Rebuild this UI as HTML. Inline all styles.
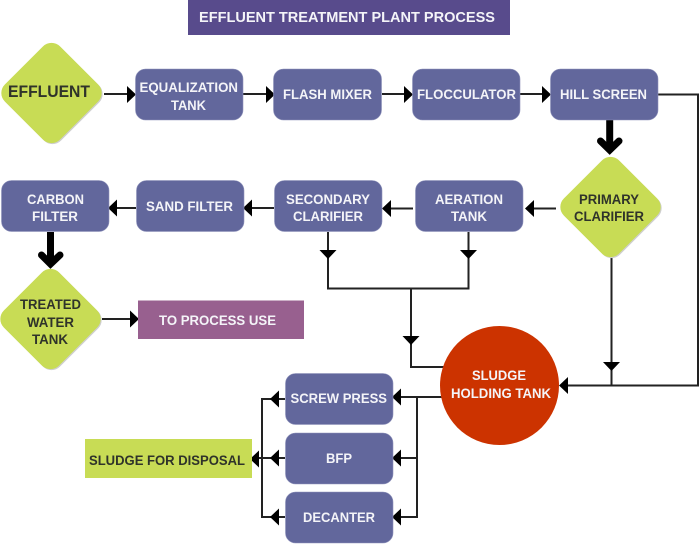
<!DOCTYPE html>
<html><head><meta charset="utf-8"><style>
html,body{margin:0;padding:0;background:#fff}
svg{display:block}
text{font-family:"Liberation Sans",sans-serif;font-weight:bold;font-size:13.5px}
.w{fill:#f4f4f8}.d{fill:#2f332a}
.l{stroke:#222;stroke-width:2;fill:none}
.b{fill:#62679c;stroke:#8f93bb;stroke-width:.6}
</style></head><body>
<svg width="700" height="544" viewBox="0 0 700 544" xmlns="http://www.w3.org/2000/svg">
<defs>
<g id="dia"><rect x="-39" y="-39" width="78" height="78" rx="12" transform="rotate(45)"/></g>
</defs>
<rect x="188" y="0" width="322" height="35" fill="#584b8c"/>
<text x="199" y="22" style="font-size:14.5px" textLength="296" lengthAdjust="spacingAndGlyphs" class="w">EFFLUENT TREATMENT PLANT PROCESS</text>

<!-- connector lines -->
<g class="l">
<path d="M104 94H130M243 94H268M382 94H406M520 94H545"/>
<path d="M658 94.500H698V385.500H566"/>
<path d="M611.500 258V385"/>
<path d="M556 208.500H532M413 208.500H390M274 208H250M136 208H115"/>
<path d="M468.500 232V288.500H328V232"/>
<path d="M411 288.500V367H444"/>
<path d="M102 319H132"/>
<path d="M442 397H400M417 397V517H400M417 458H400"/>
<path d="M285 399H262V517H285M285 458H256"/>
</g>
<!-- arrowheads -->
<g fill="#000">
<path d="M127 86L136 94.500L127 103ZM266 86L275 94.500L266 103ZM404 86L413 94.500L404 103ZM542 86L551 94.500L542 103Z"/>
<path d="M534 200L525 208.500L534 217ZM391 200L382 208.500L391 217ZM252 199.500L243 208L252 216.500ZM117 199.500L108 208L117 216.500Z"/>
<path d="M130 310.500L139 319L130 327.500Z"/>
<path d="M319.500 250H336.500L328 259ZM460 250H477L468.500 259ZM402.500 336H419.500L411 345ZM603 362H620L611.500 371Z"/>
<path d="M568 377L559 385.500L568 394Z"/>
<path d="M401 388.500L392 397L401 405.500ZM401 449.500L392 458L401 466.500ZM401 508.500L392 517L401 525.500Z"/>
<path d="M279 390.500L270 399L279 407.500ZM279 449.500L270 458L279 466.500ZM279 508.500L270 517L279 525.500ZM259 450.500L250 459L259 467.500Z"/>
</g>
<!-- thick arrows -->
<g fill="none" stroke="#000" stroke-width="7">
<path d="M609.700 120V150"/>
<path d="M50.500 232V262"/>
<path d="M600.500 141L609.700 150L619 141" stroke-linecap="round"/>
<path d="M41.500 255L50.500 264L60 255" stroke-linecap="round"/>
</g>

<!-- boxes -->
<rect class="b" x="135.500" y="69" width="107.500" height="51" rx="10"/>
<rect class="b" x="273.500" y="69" width="108" height="51" rx="10"/>
<rect class="b" x="412.500" y="69" width="107.500" height="51" rx="10"/>
<rect class="b" x="550.500" y="69" width="107.500" height="51" rx="10"/>
<rect class="b" x="1.500" y="180.500" width="107.500" height="51" rx="10"/>
<rect class="b" x="136.500" y="180.500" width="107.500" height="51" rx="10"/>
<rect class="b" x="274.500" y="180.500" width="107.500" height="51" rx="10"/>
<rect class="b" x="415.500" y="180.500" width="107.500" height="51" rx="10"/>
<rect class="b" x="285.500" y="373.500" width="107.500" height="51" rx="10"/>
<rect class="b" x="285.500" y="433" width="107.500" height="51" rx="10"/>
<rect class="b" x="285.500" y="492" width="107.500" height="51" rx="10"/>

<!-- diamonds -->
<use href="#dia" x="52.500" y="94" fill="#cfcfcf"/>
<use href="#dia" x="51.500" y="93" fill="#c8dc55"/>
<use href="#dia" x="611.500" y="208" fill="#cfcfcf"/>
<use href="#dia" x="610.500" y="207" fill="#c8dc55"/>
<use href="#dia" x="51.500" y="320" fill="#cfcfcf"/>
<use href="#dia" x="50.500" y="319" fill="#c8dc55"/>

<rect x="138" y="300.500" width="166" height="38.500" fill="#98608f"/>
<rect x="85" y="439" width="167" height="39" fill="#c8dc55"/>
<circle cx="499.500" cy="385.500" r="59.500" fill="#cc3300"/>

<!-- labels -->
<text class="d" x="8" y="97" style="font-size:16.500px" textLength="82" lengthAdjust="spacingAndGlyphs">EFFLUENT</text>
<text class="w" x="139.500" y="92" textLength="98.500" lengthAdjust="spacingAndGlyphs">EQUALIZATION</text>
<text class="w" x="171" y="110" textLength="35" lengthAdjust="spacingAndGlyphs">TANK</text>
<text class="w" x="283" y="99" textLength="89" lengthAdjust="spacingAndGlyphs">FLASH MIXER</text>
<text class="w" x="417" y="99" textLength="99" lengthAdjust="spacingAndGlyphs">FLOCCULATOR</text>
<text class="w" x="560" y="99" textLength="87" lengthAdjust="spacingAndGlyphs">HILL SCREEN</text>
<text class="w" x="435" y="204" textLength="68" lengthAdjust="spacingAndGlyphs">AERATION</text>
<text class="w" x="451" y="221" textLength="36" lengthAdjust="spacingAndGlyphs">TANK</text>
<text class="w" x="286" y="204" textLength="84" lengthAdjust="spacingAndGlyphs">SECONDARY</text>
<text class="w" x="293" y="221" textLength="70" lengthAdjust="spacingAndGlyphs">CLARIFIER</text>
<text class="d" x="579" y="204" textLength="60" lengthAdjust="spacingAndGlyphs">PRIMARY</text>
<text class="d" x="574" y="221" textLength="70" lengthAdjust="spacingAndGlyphs">CLARIFIER</text>
<text class="w" x="27" y="204" textLength="57" lengthAdjust="spacingAndGlyphs">CARBON</text>
<text class="w" x="32" y="221" textLength="46" lengthAdjust="spacingAndGlyphs">FILTER</text>
<text class="w" x="146" y="211" textLength="87" lengthAdjust="spacingAndGlyphs">SAND FILTER</text>
<text class="d" x="20" y="309" textLength="61" lengthAdjust="spacingAndGlyphs">TREATED</text>
<text class="d" x="27" y="327" textLength="47" lengthAdjust="spacingAndGlyphs">WATER</text>
<text class="d" x="32" y="344" textLength="36" lengthAdjust="spacingAndGlyphs">TANK</text>
<text class="w" x="159" y="325" textLength="117" lengthAdjust="spacingAndGlyphs">TO PROCESS USE</text>
<text class="w" x="290.500" y="403" textLength="96.500" lengthAdjust="spacingAndGlyphs">SCREW PRESS</text>
<text class="w" x="326" y="463" textLength="26" lengthAdjust="spacingAndGlyphs">BFP</text>
<text class="w" x="303" y="522" textLength="72" lengthAdjust="spacingAndGlyphs">DECANTER</text>
<text class="w" x="472" y="380" textLength="54" lengthAdjust="spacingAndGlyphs">SLUDGE</text>
<text class="w" x="451" y="398" textLength="100" lengthAdjust="spacingAndGlyphs">HOLDING TANK</text>
<text class="d" x="89" y="465" textLength="156" lengthAdjust="spacingAndGlyphs">SLUDGE FOR DISPOSAL</text>
</svg>
</body></html>
